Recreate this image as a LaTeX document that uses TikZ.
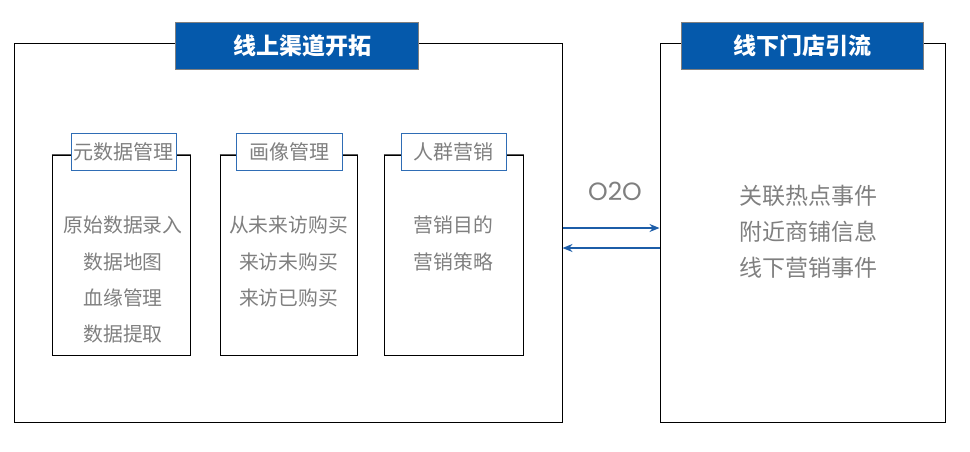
\documentclass[tikz,border=0pt]{standalone}
\usepackage{fontspec}
\setmainfont{Noto Sans CJK SC}
\newfontfamily\cjk{Noto Sans CJK SC}
\newfontfamily\ltn{Poppins}
\usetikzlibrary{arrows.meta}
\definecolor{hdblue}{HTML}{0559AB}
\definecolor{hdedge}{HTML}{7F7F7F}
\definecolor{subedge}{HTML}{2F6DB5}
\definecolor{txtgray}{HTML}{7F7F7F}
\definecolor{arrblue}{HTML}{1C5DA8}
\definecolor{topgray}{HTML}{5A5A5A}
\tikzset{
  frame/.style={draw=black, line width=1pt, inner sep=0pt},
  subframe/.style={draw=black, line width=1pt, inner sep=0pt, minimum height=200pt},
  hdbox/.style={draw=hdedge, fill=hdblue, line width=0.8pt, minimum height=47pt, inner sep=0pt,
    text=white, font=\cjk\bfseries\fontsize{23}{27}\selectfont},
  subhd/.style={draw=subedge, fill=white, line width=1pt, minimum height=37pt, minimum width=105pt, inner sep=0pt,
    text=txtgray, font=\cjk\fontsize{20}{23}\selectfont},
  item/.style={text=txtgray, font=\cjk\fontsize{19.8}{23}\selectfont, inner sep=0pt},
  ritem/.style={text=txtgray, font=\cjk\fontsize{23}{27}\selectfont, inner sep=0pt},
  conn/.style={draw=arrblue, line width=1.2pt, -{Stealth[length=10pt,width=8pt]}}
}
\begin{document}
\begin{tikzpicture}[x=1pt,y=-1pt]
\useasboundingbox (0,0) rectangle (970,451);
% outer frames
\node[frame, minimum width=548pt, minimum height=379pt] (L) at (288,232.5) {};
\node[frame, minimum width=285pt, minimum height=379pt] (R) at (802.5,232.5) {};
% headers
\node[hdbox, minimum width=243pt] (LT) at (296.5,45.5) {\hspace{12pt}线上渠道开拓};
\node[hdbox, minimum width=242pt] (RT) at (802,45.5) {线下门店引流};
% sub frames
\node[subframe, minimum width=138pt] (B1) at (121,255) {};
\node[subframe, minimum width=137pt] (B2) at (288.5,255) {};
\node[subframe, minimum width=139pt] (B3) at (453.5,255) {};
\draw[topgray, line width=1pt] (B1.north west) -- (B1.north east);
\draw[topgray, line width=1pt] (B2.north west) -- (B2.north east);
\draw[topgray, line width=1pt] (B3.north west) -- (B3.north east);
% sub headers
\node[subhd] (T1) at (123.5,151.5) {元数据管理};
\node[subhd, minimum width=106pt] (T2) at (289,151.5) {画像管理};
\node[subhd] (T3) at (453.5,151.5) {人群营销};
% items
\node[item] (a1) at (123,225) {原始数据录入};
\node[item] (a2) at (123,262) {数据地图};
\node[item] (a3) at (123,298) {血缘管理};
\node[item] (a4) at (123,334) {数据提取};
\node[item] (b1) at (288.5,225) {从未来访购买};
\node[item] (b2) at (288.5,262) {来访未购买};
\node[item] (b3) at (288.5,298) {来访已购买};
\node[item] (c1) at (453.5,225) {营销目的};
\node[item] (c2) at (453.5,262) {营销策略};
% right items
\node[ritem] (r1) at (808,196) {关联热点事件};
\node[ritem] (r2) at (808,232) {附近商铺信息};
\node[ritem] (r3) at (808,268) {线下营销事件};
% O2O
\node[text=txtgray, font=\ltn\fontsize{25}{28}\selectfont, inner sep=0pt] (o2o) at (615,191) {O2O};
% arrows
\draw[conn] (L.east |- 0,228) -- (R.west |- 0,228);
\draw[conn] (R.west |- 0,248) -- (L.east |- 0,248);
\end{tikzpicture}
\end{document}
